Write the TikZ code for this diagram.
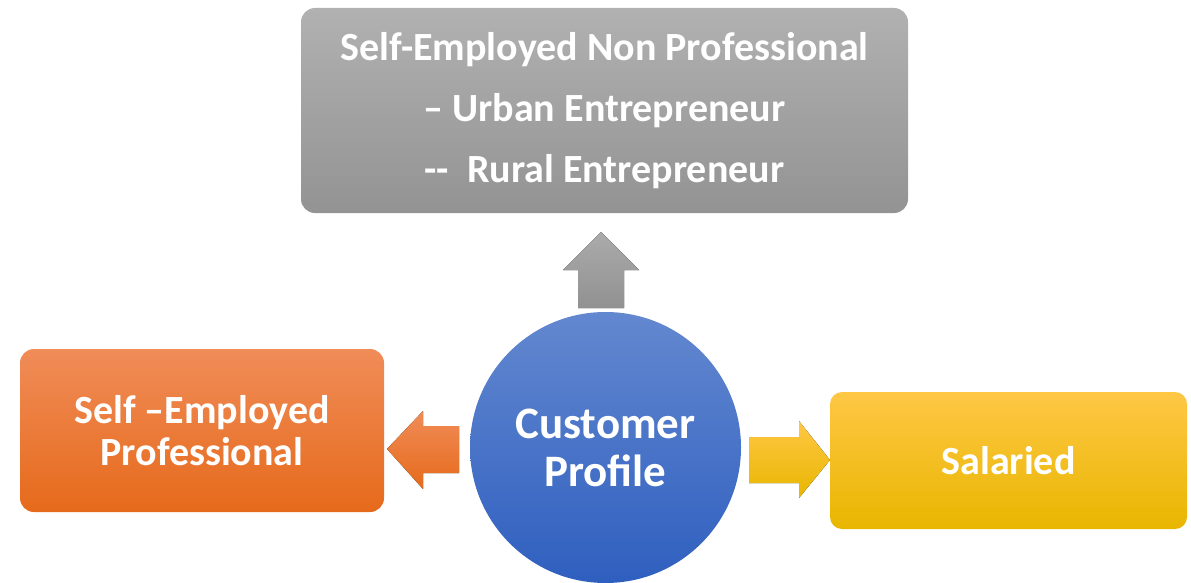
\documentclass[tikz,border=0pt]{standalone}
\usepackage{fontspec}
\setmainfont{Carlito}
\usetikzlibrary{calc}
\definecolor{grayT}{HTML}{B1B1B1}
\definecolor{grayB}{HTML}{939393}
\definecolor{garT}{HTML}{ABABAB}
\definecolor{garB}{HTML}{919191}
\definecolor{orT}{HTML}{F08C58}
\definecolor{orB}{HTML}{E66A1B}
\definecolor{blT}{HTML}{6388D0}
\definecolor{blB}{HTML}{2F5FBF}
\definecolor{yeT}{HTML}{FFC745}
\definecolor{yeB}{HTML}{E8B600}
\tikzset{
  box/.style={rounded corners=14pt, inner sep=0pt, text=white, font=\bfseries\fontsize{40}{42}\selectfont, align=center},
  blockarrow/.style={draw=none},
}
\begin{document}
\begin{tikzpicture}[x=1pt,y=-1pt]
\useasboundingbox (0,0) rectangle (1191,583);
% gray box
\node[box, minimum width=607pt, minimum height=205pt, top color=grayT, bottom color=grayB,
  font=\bfseries\fontsize{40}{61}\selectfont] (np) at (604.5,110.5)
  {Self-Employed Non Professional\\– Urban Entrepreneur\\-{}-~~Rural Entrepreneur};
% orange box
\node[box, minimum width=364pt, minimum height=163pt, top color=orT, bottom color=orB] (sep) at (202,430.5)
  {Self –Employed\\Professional};
% yellow box
\node[box, minimum width=357pt, minimum height=137pt, rounded corners=12pt, top color=yeT, bottom color=yeB] (sal) at (1008.5,460.5)
  {Salaried};
% circle
\node[circle, minimum size=271pt, inner sep=0pt, top color=blT, bottom color=blB, text=white,
  font=\bfseries\fontsize{45}{48}\selectfont, align=center] (cp) at (605.5,447.5)
  {Customer\\Profile};
% up arrow (gray)
\fill[top color=garT, bottom color=garB, blockarrow]
  (578,308) -- (578,270) -- (563,270) -- (601,232) -- (639,270) -- (624,270) -- (624,308) -- cycle;
% left arrow (orange)
\fill[top color=orT, bottom color=orB, blockarrow]
  (459,426) -- (423,426) -- (423,411) -- (387,449) -- (423,489) -- (423,473) -- (459,473) -- cycle;
% right arrow (yellow)
\fill[top color=yeT, bottom color=yeB, blockarrow]
  (749,437) -- (799,437) -- (799,421) -- (830,460) -- (799,498) -- (799,483) -- (749,483) -- cycle;
\end{tikzpicture}
\end{document}
